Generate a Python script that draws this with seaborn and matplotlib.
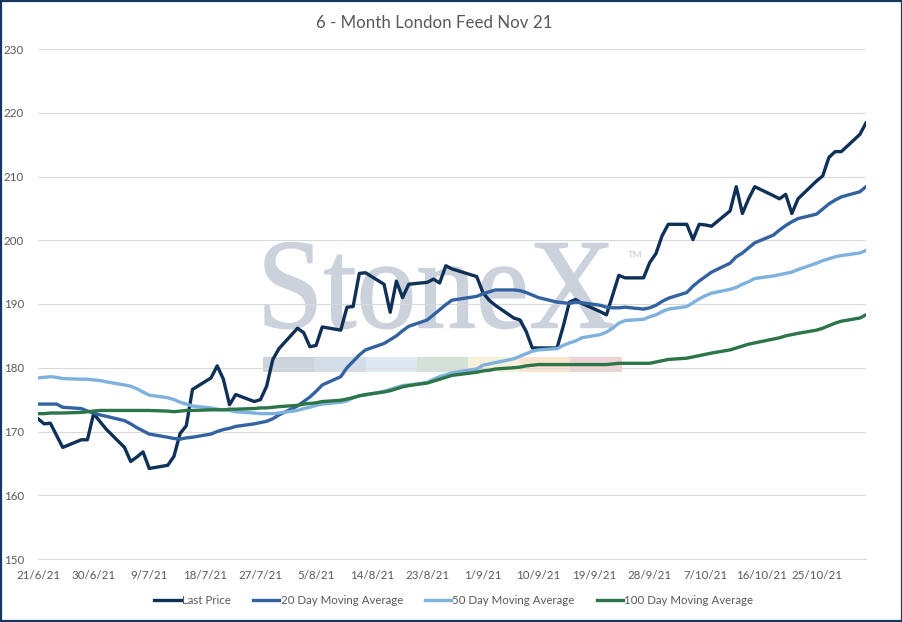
import numpy as np
import pandas as pd
import matplotlib
matplotlib.use("Agg")
import matplotlib.pyplot as plt
import matplotlib.dates as mdates
import matplotlib.ticker as mticker
import seaborn as sns
from matplotlib.textpath import TextPath
from matplotlib.patches import PathPatch, Rectangle
from matplotlib.font_manager import FontProperties
from matplotlib.transforms import Affine2D

# ---------------- data ----------------
holidays = ["2021-08-30"]
dates = pd.bdate_range("2021-06-21", "2021-11-02", freq="C", holidays=holidays)
tick_dates = ["2021-06-21", "2021-06-30", "2021-07-09", "2021-07-18", "2021-07-27",
              "2021-08-05", "2021-08-14", "2021-08-23", "2021-09-01", "2021-09-10",
              "2021-09-19", "2021-09-28", "2021-10-07", "2021-10-16", "2021-10-25"]

last_price = [
    172.0, 171.2, 171.3, 169.4, 167.5,
    168.7, 168.7, 172.8, 171.6, 170.4,
    167.5, 165.3, 166.0, 166.8, 164.2,
    164.7, 166.1, 169.7, 170.9, 176.6,
    178.4, 180.3, 178.2, 174.2, 175.8,
    174.7, 175.0, 177.1, 181.3, 183.0,
    186.2, 185.5, 183.3, 183.5, 186.4,
    185.9, 189.5, 189.6, 194.8, 194.9,
    193.1, 188.7, 193.6, 191.0, 193.1,
    193.4, 193.9, 193.3, 196.0, 195.5,
    194.3, 191.8, 190.6, 189.8,
    187.8, 187.5, 185.7, 183.1, 183.1,
    183.1, 186.5, 190.3, 190.7, 190.1,
    188.8, 188.3, 191.4, 194.5, 194.1,
    194.1, 196.5, 197.9, 200.7, 202.5,
    202.5, 200.1, 202.5, 202.4, 202.2,
    204.6, 208.4, 204.2, 206.5, 208.4,
    207.0, 206.5, 207.2, 204.2, 206.5,
    209.3, 210.1, 213.0, 213.9, 213.9,
    216.6, 218.4,
]
ma20 = [
    174.3, 174.3, 174.3, 174.3, 173.8,
    173.6, 173.2, 172.9, 172.6, 172.4,
    171.7, 171.2, 170.6, 170.1, 169.6,
    169.1, 168.9, 168.8, 169.0, 169.1,
    169.6, 170.0, 170.3, 170.5, 170.8,
    171.2, 171.4, 171.6, 172.0, 172.6,
    174.0, 174.7, 175.4, 176.3, 177.3,
    178.6, 180.0, 181.0, 182.0, 182.8,
    183.8, 184.4, 185.0, 185.8, 186.5,
    187.5, 188.3, 189.1, 189.9, 190.6,
    191.2, 191.6, 191.9, 192.2,
    192.2, 192.1, 191.8, 191.4, 191.0,
    190.3, 190.2, 190.1, 190.3, 190.2,
    189.8, 189.5, 189.4, 189.4, 189.5,
    189.2, 189.4, 189.8, 190.4, 190.9,
    191.8, 192.8, 193.6, 194.3, 195.0,
    196.4, 197.4, 198.0, 198.8, 199.6,
    200.8, 201.6, 202.3, 202.9, 203.4,
    204.1, 204.9, 205.7, 206.3, 206.8,
    207.6, 208.4,
]
ma50 = [
    178.4, 178.5, 178.6, 178.5, 178.3,
    178.2, 178.2, 178.1, 178.0, 177.8,
    177.3, 177.1, 176.7, 176.2, 175.7,
    175.3, 175.0, 174.6, 174.3, 174.0,
    173.7, 173.5, 173.4, 173.3, 173.1,
    172.9, 172.8, 172.8, 172.8, 172.9,
    173.3, 173.6, 173.8, 174.1, 174.3,
    174.6, 174.8, 175.3, 175.6, 175.7,
    176.3, 176.6, 176.9, 177.2, 177.3,
    177.7, 178.2, 178.6, 178.9, 179.2,
    179.8, 180.4, 180.6, 180.8,
    181.4, 181.8, 182.2, 182.6, 182.8,
    183.0, 183.5, 183.9, 184.2, 184.7,
    185.2, 185.6, 186.2, 187.0, 187.4,
    187.6, 188.0, 188.3, 188.8, 189.2,
    189.6, 190.2, 190.8, 191.3, 191.7,
    192.3, 192.6, 193.1, 193.5, 194.0,
    194.4, 194.6, 194.8, 195.0, 195.4,
    196.4, 196.8, 197.1, 197.4, 197.6,
    198.0, 198.4,
]
ma100 = [
    172.8, 172.8, 172.9, 172.9, 172.9,
    173.0, 173.1, 173.2, 173.3, 173.3,
    173.3, 173.3, 173.3, 173.3, 173.3,
    173.2, 173.1, 173.2, 173.3, 173.3,
    173.4, 173.4, 173.4, 173.5, 173.5,
    173.6, 173.7, 173.7, 173.8, 173.9,
    174.1, 174.3, 174.4, 174.5, 174.7,
    174.9, 175.1, 175.3, 175.6, 175.8,
    176.2, 176.4, 176.7, 177.0, 177.2,
    177.6, 177.9, 178.2, 178.5, 178.8,
    179.3, 179.5, 179.6, 179.8,
    180.0, 180.1, 180.3, 180.4, 180.5,
    180.5, 180.5, 180.5, 180.5, 180.5,
    180.5, 180.5, 180.6, 180.7, 180.7,
    180.7, 180.7, 180.9, 181.1, 181.3,
    181.5, 181.7, 181.9, 182.1, 182.3,
    182.8, 183.1, 183.4, 183.7, 183.9,
    184.5, 184.7, 185.0, 185.2, 185.4,
    185.9, 186.2, 186.6, 187.0, 187.3,
    187.8, 188.3,
]

series_names = ["Last Price", "20 Day Moving Average",
                "50 Day Moving Average", "100 Day Moving Average"]
series_colors = ["#0f3057", "#3263a0", "#7eb1dd", "#2b7548"]
title = "6 - Month London Feed Nov 21"

df = pd.concat([
    pd.DataFrame({"date": dates, "value": vals, "series": name})
    for name, vals in zip(series_names, [last_price, ma20, ma50, ma100])
])

# ---------------- figure ----------------
W, H = 903, 622
fig = plt.figure(figsize=(W / 100, H / 100), dpi=100, facecolor="white")
ax = fig.add_axes([38 / W, 1 - 559 / H, (866 - 38) / W, (559 - 49) / H])
ax.set_facecolor("none")

FONT = ["Lato", "DejaVu Sans"]
TXT = "#595959"

sns.lineplot(data=df, x="date", y="value", hue="series", hue_order=series_names,
             palette=series_colors, linewidth=2.4, ax=ax, legend=False, zorder=3)

ax.set_ylim(150, 230)
ax.set_yticks(np.arange(150, 231, 10))
ax.set_xlim(pd.Timestamp("2021-06-21"), pd.Timestamp("2021-11-02"))
ax.xaxis.set_major_locator(mticker.FixedLocator(mdates.date2num(pd.to_datetime(tick_dates))))
ax.xaxis.set_major_formatter(mticker.FuncFormatter(
    lambda v, p: (lambda d: f"{d.day}/{d.month}/{d.strftime('%y')}")(mdates.num2date(v))))
ax.set_xlabel("")
ax.set_ylabel("")
ax.grid(axis="y", color="#d9d9d9", linewidth=0.8, zorder=0)
ax.grid(axis="x", visible=False)
for s in ["top", "right", "left"]:
    ax.spines[s].set_visible(False)
ax.spines["bottom"].set_color("#d9d9d9")
ax.spines["bottom"].set_linewidth(0.8)
ax.tick_params(axis="both", length=0, colors=TXT, labelsize=8.3)
ax.tick_params(axis="y", pad=10)
ax.tick_params(axis="x", pad=8)
for lab in ax.get_xticklabels() + ax.get_yticklabels():
    lab.set_fontfamily(FONT)

fig.text(434 / W, 1 - 23 / H, title, ha="center", va="center",
         fontsize=12.2, color=TXT, family=FONT)

# legend
handles = ax.get_lines()[:4]
leg = fig.legend(handles, series_names, loc="center", bbox_to_anchor=(454 / W, 1 - 601 / H),
                 ncol=4, frameon=False, prop={"family": FONT, "size": 8.3},
                 handlelength=2.3, handletextpad=0.1, columnspacing=1.9)
for t in leg.get_texts():
    t.set_color(TXT)

# watermark (StoneX logo)
to_fig = Affine2D().scale(1 / W, 1 / H) + fig.transFigure
tp = TextPath((0, 0), "StoneX", size=100, prop=FontProperties(family="Liberation Serif"))
ext = tp.get_extents()
x0, x1 = 265, 613
base, cap = H - 327.5, H - 242.5
sx = (x1 - x0) / ext.width
sy = (cap - base) / 66.2
tr = Affine2D().translate(-ext.x0, 0).scale(sx, sy).translate(x0, base)
wm = PathPatch(tr.transform_path(tp), facecolor="#cbd2dc", edgecolor="#cbd2dc",
               linewidth=1.0, transform=to_fig, zorder=1, clip_on=False)
ax.add_artist(wm)
fig.text(635 / W, 1 - 256 / H, "TM", fontsize=7, color="#c6cdd6", family=FONT,
         ha="center", va="center", zorder=1)
strip_cols = ["#cdd3dc", "#d5dde8", "#dfe9f3", "#d3e2d8", "#f6f2d9", "#f8e3cd", "#efd3d4"]
sw = (621.7 - 263.3) / len(strip_cols)
for i, c in enumerate(strip_cols):
    ax.add_artist(Rectangle((263.3 + i * sw, H - 372.3), sw, 15, facecolor=c,
                            edgecolor="none", transform=to_fig, zorder=1, clip_on=False))

# outer border
fig.add_artist(Rectangle((0.001, 0.0015), 0.998, 0.997, transform=fig.transFigure,
                         fill=False, edgecolor="#16375e", linewidth=1.6))

fig.savefig("out.png", dpi=100, facecolor="white")
